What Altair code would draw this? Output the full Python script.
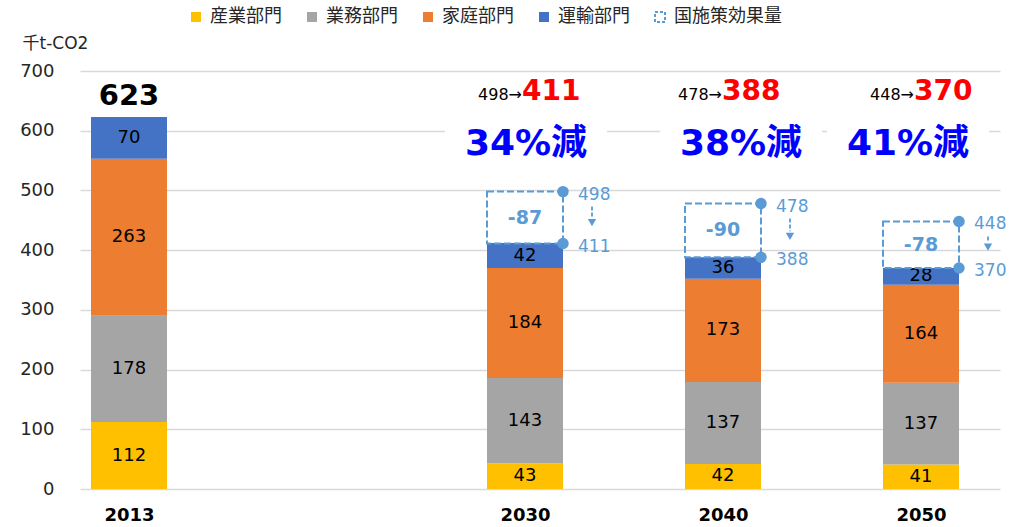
import altair as alt
import pandas as pd

# ---------------- data ----------------
years = ["2013", "2030", "2040", "2050"]
slots = [0, 2, 3, 4]
sectors = ["産業部門", "業務部門", "家庭部門", "運輸部門"]
industry = [112, 43, 42, 41]
business = [178, 143, 137, 137]
household = [263, 184, 173, 164]
transport = [70, 42, 36, 28]
effect_name = "国施策効果量"

base_year_total = [623]
policy_years = ["2030", "2040", "2050"]
policy_slots = [2, 3, 4]
before = [498, 478, 448]
after = [411, 388, 370]
diff = [-87, -90, -78]
reduction = ["34%減", "38%減", "41%減"]

colors = ["#FFC000", "#A5A5A5", "#ED7D31", "#4472C4", "#FFFFFF"]
EFFECT = "#5B9BD5"

# ---------------- layout / style constants ----------------
W, H = 920, 418
XMIN, XMAX = -0.2475, 4.399
UNIT = W / (XMAX - XMIN)       # pixels per slot
YPX = H / 700.0                 # pixels per data unit
BAR = 76
FONT = "DejaVu Sans, Noto Sans CJK JP"
HEAD_DX = {"2030": -2, "2040": 0, "2050": -6}     # pixel nudges of the header labels
PCT_DX = {"2030": 1, "2040": 18, "2050": -13}

# ---------------- tables ----------------
rows = []
for i, yr in enumerate(years):
    start = 0
    for s, vals in zip(sectors, [industry, business, household, transport]):
        v = vals[i]
        rows.append(dict(year=yr, slot=slots[i], sector=s, value=v,
                         start=start, end=start + v, mid=start + v / 2))
        start += v
bars = pd.DataFrame(rows)

base_df = pd.DataFrame(dict(slot=[slots[0]], total=base_year_total))

pol = pd.DataFrame(dict(year=policy_years, slot=policy_slots, before=before,
                        after=after, diff=[str(d) for d in diff], reduction=reduction))
pol["arrow_lbl"] = [f"{b}→" for b in before]
pol["after_lbl"] = [str(a) for a in after]
pol["box_mid"] = (pol["before"] + pol["after"]) / 2
pol["xa"] = pol["slot"] + 67 / UNIT
pol["a0"] = pol["before"] - 15 / YPX
pol["a1"] = pol["after"] + 26 / YPX
pol["ah"] = pol["after"] + 21 / YPX
pol["xh"] = pol["slot"] + pol["year"].map(HEAD_DX) / UNIT
pol["xp"] = pol["slot"] + pol["year"].map(PCT_DX) / UNIT

pts = []
for i in range(len(policy_years)):
    for v in (before[i], after[i]):
        pts.append(dict(slot=policy_slots[i], val=v, lbl=str(v),
                        xr=policy_slots[i] + (BAR / 2) / UNIT,
                        xl=policy_slots[i] + 53 / UNIT))
pts = pd.DataFrame(pts)

# ---------------- encodings ----------------
x_axis = alt.Axis(values=slots,
                  labelExpr=" : ".join(
                      [f"datum.value == {s} ? '{y}'" for s, y in zip(slots, years)]) + " : ''",
                  grid=False, ticks=False, tickSize=0, domain=False,
                  labelFontSize=18, labelFontWeight="bold", labelColor="#000000",
                  labelPadding=17, title=None, labelFont="DejaVu Sans")
y_axis = alt.Axis(values=list(range(0, 701, 100)), grid=True, gridColor="#D9D9D9",
                  gridWidth=1.5, ticks=False, tickSize=0, domain=False,
                  labelFontSize=18, labelColor="#262626", labelPadding=26,
                  labelFont="DejaVu Sans",
                  title="千t-CO2", titleAngle=0, titleX=-58, titleY=-28,
                  titleAlign="left", titleBaseline="middle", titleFontSize=17,
                  titleFontWeight="normal", titleColor="#262626", titleFont=FONT)
x_scale = alt.Scale(domain=[XMIN, XMAX], nice=False, zero=False, padding=0)
y_scale = alt.Scale(domain=[0, 700], nice=False, padding=0)


def X(field):
    return alt.X(field, scale=x_scale, axis=x_axis)


def Y(field):
    return alt.Y(field, scale=y_scale, axis=y_axis)


def YD(v):
    return alt.YDatum(v, scale=y_scale, axis=y_axis)


legend = alt.Legend(
    orient="none", legendX=107, legendY=-63, direction="horizontal", title=None,
    symbolType="square", symbolSize=100, labelFontSize=18, labelFont="Noto Sans CJK JP",
    labelColor="#262626", labelOffset=5, columnPadding=21, padding=0, symbolStrokeWidth=2,
)
legend_domain = sectors + [effect_name]

# white backgrounds behind reduction text
bg = alt.Chart(pol).mark_bar(size=162, color="white").encode(
    x=X("xp:Q"), y=YD(553), y2=alt.datum(618))

bar_layer = alt.Chart(bars).mark_bar(size=BAR, strokeWidth=0).encode(
    x=X("slot:Q"), y=Y("start:Q"), y2="end:Q",
    color=alt.Color("sector:N", scale=alt.Scale(domain=legend_domain, range=colors),
                    legend=legend),
    stroke=alt.Stroke("sector:N",
                      scale=alt.Scale(domain=legend_domain,
                                      range=["transparent"] * 4 + [EFFECT]),
                      legend=legend),
    strokeDash=alt.StrokeDash("sector:N",
                              scale=alt.Scale(domain=legend_domain,
                                              range=[[1, 0]] * 4 + [[3, 2]]),
                              legend=legend),
    order=alt.Order("start:Q"))

bar_text = alt.Chart(bars).mark_text(fontSize=18, color="#000000", font="DejaVu Sans").encode(
    x=X("slot:Q"), y=Y("mid:Q"), text="value:N")

base_text = alt.Chart(base_df).mark_text(fontSize=29, fontWeight="bold", color="#000000",
                                         baseline="alphabetic", dy=-12, font="DejaVu Sans").encode(
    x=X("slot:Q"), y=Y("total:Q"), text="total:N")

box = alt.Chart(pol).mark_bar(size=BAR, fill="transparent", stroke=EFFECT, strokeWidth=2,
                              strokeDash=[7, 3]).encode(
    x=X("slot:Q"), y=Y("before:Q"), y2="after:Q")

diff_text = alt.Chart(pol).mark_text(fontSize=19, fontWeight="bold", color=EFFECT,
                                     font="DejaVu Sans").encode(
    x=X("slot:Q"), y=Y("box_mid:Q"), text="diff:N")

dots = alt.Chart(pts).mark_circle(size=130, color=EFFECT, opacity=1).encode(
    x=X("xr:Q"), y=Y("val:Q"))

dot_text = alt.Chart(pts).mark_text(fontSize=17, color=EFFECT, align="left", dy=3,
                                    font="DejaVu Sans").encode(
    x=X("xl:Q"), y=Y("val:Q"), text="lbl:N")

arrow = alt.Chart(pol).mark_rule(color=EFFECT, strokeWidth=1.8, strokeDash=[4, 2]).encode(
    x=X("xa:Q"), y=Y("a0:Q"), y2="a1:Q")

arrow_head = alt.Chart(pol).mark_point(shape="triangle-down", filled=True, size=70,
                                       color=EFFECT, opacity=1).encode(
    x=X("xa:Q"), y=Y("ah:Q"))

small_arrow_text = alt.Chart(pol).mark_text(fontSize=16, color="#000000", align="right",
                                            baseline="alphabetic", dx=-1,
                                            font="DejaVu Sans").encode(
    x=X("xh:Q"), y=YD(652), text="arrow_lbl:N")

red_text = alt.Chart(pol).mark_text(fontSize=28, fontWeight="bold", color="#FF0000",
                                    align="left", baseline="alphabetic", dx=-1,
                                    font="DejaVu Sans").encode(
    x=X("xh:Q"), y=YD(652), text="after_lbl:N")

red_pct = alt.Chart(pol).mark_text(fontSize=36, fontWeight="bold", color="#0000FF",
                                   baseline="alphabetic", font=FONT).encode(
    x=X("xp:Q"), y=YD(559), text="reduction:N")

chart = alt.layer(
    bar_layer, bg, bar_text, base_text, box, diff_text, dots, dot_text, arrow, arrow_head,
    small_arrow_text, red_text, red_pct,
).properties(
    width=W, height=H,
    autosize=alt.AutoSizeParams(type="none"),
    padding={"left": 80, "top": 71, "right": 15, "bottom": 38},
).configure(font="DejaVu Sans").configure_view(stroke=None)

chart.save("out.html", embed_options={"renderer": "svg", "actions": False})
